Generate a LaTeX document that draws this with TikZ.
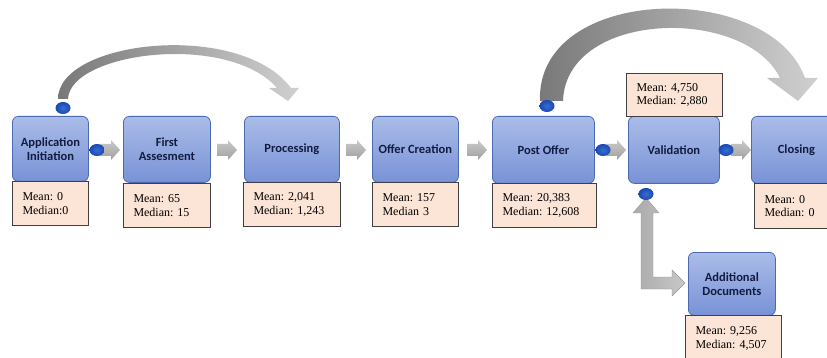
\documentclass[tikz,border=0pt]{standalone}
\usepackage{fontspec}
\setmainfont{Liberation Serif}
\newfontfamily\lblfont{Carlito}
\usetikzlibrary{shapes.geometric,calc}
\definecolor{boxtop}{RGB}{170,188,232}
\definecolor{boxbot}{RGB}{120,146,214}
\definecolor{boxedge}{RGB}{76,106,178}
\definecolor{statfill}{RGB}{252,228,214}
\definecolor{dotblue}{RGB}{26,82,200}
\definecolor{labelcol}{RGB}{18,28,64}
\definecolor{curvedark}{RGB}{120,120,120}
\definecolor{curvelight}{RGB}{208,208,208}
\definecolor{smallgray}{RGB}{178,178,178}
\definecolor{lgray}{RGB}{200,200,200}
\definecolor{lgrayedge}{RGB}{150,150,150}
\newcommand\garrow[2]{\shade[top color=smallgray!70!white, bottom color=smallgray!90!black]
  (#1,#2-6) -- (#1+11,#2-6) -- (#1+11,#2-10) -- (#1+20,#2) -- (#1+11,#2+10) -- (#1+11,#2+6) -- (#1,#2+6) -- cycle;}
\frenchspacing
\begin{document}
\begin{tikzpicture}[x=1pt,y=-1pt,
  procbox/.style={draw=boxedge, line width=0.8pt, rounded corners=6pt,
    top color=boxtop, bottom color=boxbot, anchor=north west,
    font=\lblfont\bfseries\fontsize{12.5}{14}\selectfont, text=labelcol,
    align=center, inner sep=2pt},
  statbox/.style={draw=black!75, line width=1pt, fill=statfill, anchor=north west,
    align=left, font=\frenchspacing\fontsize{12}{13.5}\selectfont, inner xsep=10pt, inner ysep=3pt},
  dotnode/.style={ellipse, minimum width=15pt, minimum height=12pt, inner sep=0pt,
    shading=radial, inner color=dotblue!85!white, outer color=dotblue!90!black},
]
\useasboundingbox (0,0) rectangle (827,358);
\clip (0,0) rectangle (827,358);

% curved arrows
\shade[left color=curvedark, right color=curvelight]
  (58,99) .. controls (58,40) and (240,20) .. (291,88)
  -- (299,88) -- (288,101) -- (269,88) -- (277,88)
  .. controls (228,32) and (70,52) .. (68,99) -- cycle;
\shade[left color=curvedark, right color=curvelight]
  (540,101) .. controls (536,-16) and (770,-20) .. (805,78)
  -- (818,78) -- (798,101) -- (767,78) -- (780,78)
  .. controls (745,6) and (566,10) .. (563,101) -- cycle;

% L arrow
\shade[left color=lgray!85!black, right color=lgray, draw=lgrayedge, line width=0.4pt]
  (646,198) -- (659,213) -- (653,213) -- (653,277) -- (672,277) -- (672,270)
  -- (685,283) -- (672,296) -- (672,289) -- (641,289) -- (641,213) -- (633,213) -- cycle;

% process boxes
\node[procbox, minimum width=76pt, minimum height=65pt] (n1) at (12,116) {Application\\Initiation};
\node[procbox, minimum width=87pt, minimum height=66pt] (n2) at (123,116) {First\\Assesment};
\node[procbox, minimum width=95pt, minimum height=66pt] (n3) at (244,116) {Processing};
\node[procbox, minimum width=86pt, minimum height=66pt] (n4) at (372,116) {Offer Creation};
\node[procbox, minimum width=102pt, minimum height=67pt] (n5) at (492,116) {Post Offer};
\node[procbox, minimum width=91pt, minimum height=67pt] (n6) at (628,116) {Validation};
\node[procbox, minimum width=90pt, minimum height=67pt] (n7) at (751,116) {Closing};
\node[procbox, minimum width=87pt, minimum height=63pt] (n8) at (688,252) {Additional\\Documents};

% stats boxes
\node[statbox, minimum width=76pt, minimum height=44pt, text width=56pt] (s1) at (12,181) {Mean: 0\\Median:0};
\node[statbox, minimum width=87pt, minimum height=44pt, text width=67pt] (s2) at (123,183) {Mean: 65\\Median: 15};
\node[statbox, minimum width=97pt, minimum height=44pt, text width=77pt] (s3) at (243,182) {Mean: 2,041\\Median: 1,243};
\node[statbox, minimum width=86pt, minimum height=44pt, text width=66pt] (s4) at (372,182) {Mean: 157\\Median 3};
\node[statbox, minimum width=104pt, minimum height=44pt, text width=84pt] (s5) at (492,183) {Mean: 20,383\\Median: 12,608};
\node[statbox, minimum width=96pt, minimum height=43pt, text width=76pt] (s6) at (626,73) {Mean: 4,750\\Median: 2,880};
\node[statbox, minimum width=90pt, minimum height=45pt, text width=70pt] (s7) at (754,183) {Mean: 0\\Median: 0};
\node[statbox, minimum width=96pt, minimum height=46pt, text width=76pt] (s8) at (685,315) {Mean: 9,256\\Median: 4,507};

% straight block arrows
\garrow{100}{150}
\garrow{217}{150}
\garrow{346}{150}
\garrow{467}{150}
\garrow{606}{150}
\garrow{731}{150}

% dots
\node[dotnode] (d1) at (63,108) {};
\node[dotnode] (d2) at (97,150) {};
\node[dotnode] (d3) at (547,106) {};
\node[dotnode] (d4) at (603,150) {};
\node[dotnode] (d5) at (726,150) {};
\node[dotnode] (d6) at (646,194) {};
\end{tikzpicture}
\end{document}
